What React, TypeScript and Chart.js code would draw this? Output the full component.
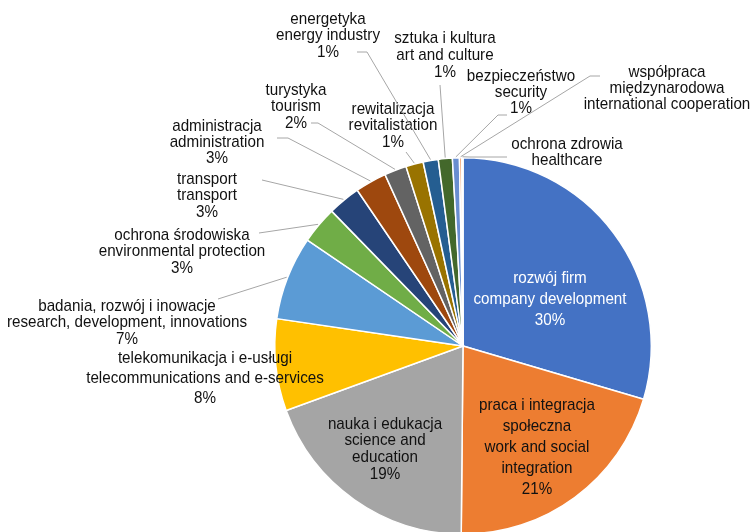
import React, { useEffect, useRef } from "react";
import { Chart, ArcElement, PieController } from "chart.js";

Chart.register(ArcElement, PieController);

// ---- data ----
const polishNames = [
  "rozwój firm",
  "praca i integracja\nspołeczna",
  "nauka i edukacja",
  "telekomunikacja i e-usługi",
  "badania, rozwój i inowacje",
  "ochrona środowiska",
  "transport",
  "administracja",
  "turystyka",
  "rewitalizacja",
  "energetyka",
  "sztuka i kultura",
  "bezpieczeństwo",
  "współpraca\nmiędzynarodowa",
  "ochrona zdrowia",
];
const englishNames = [
  "company development",
  "work and social\nintegration",
  "science and\neducation",
  "telecommunications and e-services",
  "research, development, innovations",
  "environmental protection",
  "transport",
  "administration",
  "tourism",
  "revitalistation",
  "energy industry",
  "art and culture",
  "security",
  "international cooperation",
  "healthcare",
];
const shares = [29.6, 20.6, 19.3, 7.9, 7.2, 3.2, 2.8, 2.7, 1.9, 1.5, 1.3, 1.2, 0.6, 0.2, 0.1];
const sliceColors = [
  "#4472C4", "#ED7D31", "#A5A5A5", "#FFC000", "#5B9BD5", "#70AD47", "#264478",
  "#9E480E", "#636363", "#997300", "#255E91", "#43682B", "#698ED0", "#F1975A", "#B7B7B7",
];

// ---- label layout (positions of the label blocks and leader elbows) ----
type LabelLayout = { x: number; y: number; lh: number; color: string; leader?: number[][] };
const TEXT = "#111111";
const labelLayout: LabelLayout[] = [
  { x: 550, y: 278, lh: 21, color: "#ffffff" },
  { x: 537, y: 405, lh: 21, color: TEXT },
  { x: 385, y: 424, lh: 16.7, color: TEXT },
  { x: 205, y: 358, lh: 20, color: TEXT },
  { x: 127, y: 306, lh: 16.5, color: TEXT, leader: [[218, 299]] },
  { x: 182, y: 235, lh: 16.5, color: TEXT, leader: [[259, 233]] },
  { x: 207, y: 179, lh: 16.5, color: TEXT, leader: [[262, 180]] },
  { x: 217, y: 126, lh: 16, color: TEXT, leader: [[277, 138], [288, 138]] },
  { x: 296, y: 90, lh: 16.5, color: TEXT, leader: [[311, 123], [318, 123]] },
  { x: 393, y: 109, lh: 16.5, color: TEXT, leader: [[406, 152]] },
  { x: 328, y: 19, lh: 16.5, color: TEXT, leader: [[357, 52], [367, 52]] },
  { x: 445, y: 38, lh: 17, color: TEXT, leader: [[440, 85]] },
  { x: 521, y: 76, lh: 16, color: TEXT, leader: [[507, 115], [498, 115]] },
  { x: 667, y: 72, lh: 16, color: TEXT, leader: [[600, 76], [590, 76]] },
  { x: 567, y: 144, lh: 16, color: TEXT, leader: [[507, 157], [470, 157]] },
];

const FONT_SIZE = 17;
const X_SCALE = 0.895;

const labelPlugin = {
  id: "sliceLabels",
  afterDatasetsDraw(chart: any) {
    const ctx: CanvasRenderingContext2D = chart.ctx;
    const meta = chart.getDatasetMeta(0);
    const total = shares.reduce((a, b) => a + b, 0);
    ctx.save();
    meta.data.forEach((arc: any, i: number) => {
      const L = labelLayout[i];
      const p = arc.getProps(["x", "y", "startAngle", "endAngle", "outerRadius"], true);
      const mid = (p.startAngle + p.endAngle) / 2;
      if (L.leader) {
        const r = p.outerRadius + 1;
        const ex = p.x + Math.cos(mid) * r;
        const ey = p.y + Math.sin(mid) * r;
        ctx.beginPath();
        ctx.strokeStyle = "#A6A6A6";
        ctx.lineWidth = 1;
        ctx.moveTo(L.leader[0][0], L.leader[0][1]);
        for (let k = 1; k < L.leader.length; k++) ctx.lineTo(L.leader[k][0], L.leader[k][1]);
        ctx.lineTo(ex, ey);
        ctx.stroke();
      }
      const lines = [...polishNames[i].split("\n"), ...englishNames[i].split("\n")];
      const pct = Math.round((shares[i] / total) * 100);
      if (pct >= 1) lines.push(pct + "%");
      ctx.fillStyle = L.color;
      ctx.font = `${FONT_SIZE}px "Liberation Sans", Arial, sans-serif`;
      ctx.textAlign = "center";
      ctx.textBaseline = "middle";
      lines.forEach((t, k) => {
        ctx.save();
        ctx.translate(L.x, L.y + k * L.lh);
        ctx.scale(X_SCALE, 1);
        ctx.fillText(t, 0, 0);
        ctx.restore();
      });
    });
    ctx.restore();
  },
};

export default function App() {
  const ref = useRef<HTMLCanvasElement | null>(null);
  useEffect(() => {
    document.body.style.margin = "0";
    const canvas = ref.current;
    if (!canvas) return;
    const chart = new Chart(canvas, {
      type: "pie",
      data: {
        labels: polishNames,
        datasets: [
          {
            data: shares,
            backgroundColor: sliceColors,
            borderColor: "#ffffff",
            borderWidth: 1.5,
          },
        ],
      },
      options: {
        animation: false,
        responsive: false,
        devicePixelRatio: 1,
        layout: { padding: { left: 274, right: 100, top: 157, bottom: 6 } },
        plugins: { legend: { display: false }, tooltip: { enabled: false } },
      },
      plugins: [labelPlugin],
    });
    return () => chart.destroy();
  }, []);
  return (
    <div style={{ position: "absolute", left: 0, top: 0, width: 752, height: 532, overflow: "hidden", background: "#fff" }}>
      <canvas ref={ref} width={752} height={541} style={{ display: "block" }} />
    </div>
  );
}
